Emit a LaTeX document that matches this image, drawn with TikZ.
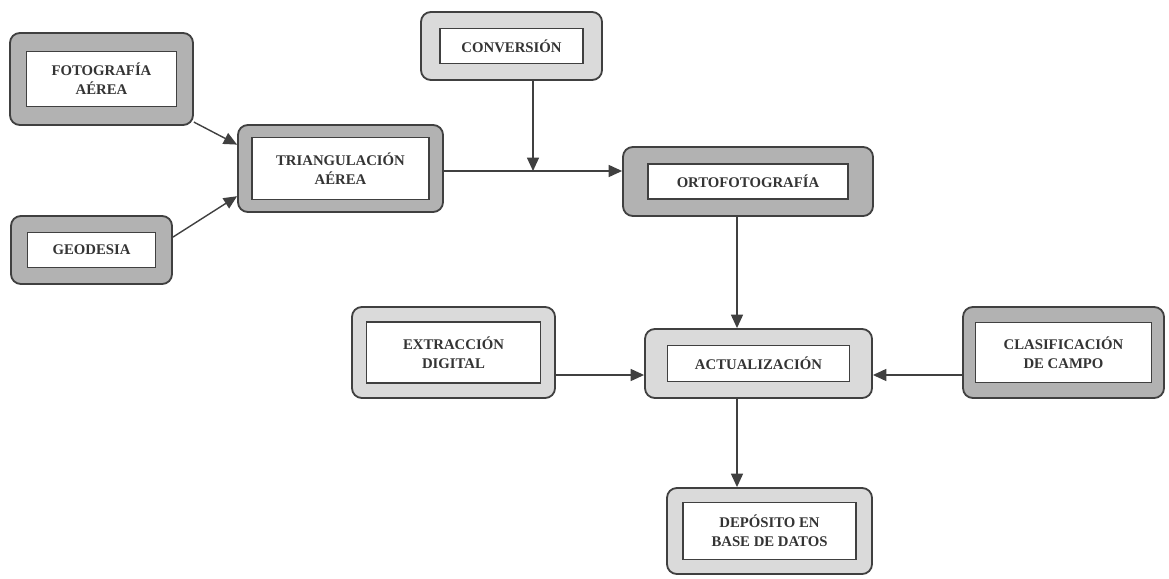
\documentclass[tikz,border=0pt]{standalone}
\usepackage{fontspec}
\setmainfont{Liberation Serif}
\usepackage{xcolor}
\usetikzlibrary{arrows.meta}
\definecolor{inkgray}{RGB}{64,64,64}
\definecolor{textgray}{RGB}{52,52,52}
\definecolor{shadedark}{RGB}{178,178,178}
\definecolor{shadelight}{RGB}{218,218,218}
\newcommand{\px}{0.025cm}

\begin{document}
\begin{tikzpicture}[x=0.025cm, y=-0.025cm,
  flow/.style={-{Triangle[length=9.5pt, width=8.5pt]}, draw=inkgray, line width=1pt},
  shell/.style={draw=inkgray, line width=1.3pt, rounded corners=7pt, inner sep=0pt},
  darkshell/.style={shell, fill=shadedark},
  lightshell/.style={shell, fill=shadelight},
  card/.style={draw=inkgray, line width=1.2pt, fill=white, align=center,
               text=textgray, font=\fontsize{10.5}{13.5}\selectfont\bfseries}]
  \useasboundingbox (0,0) rectangle (1169,578);

  % sources
  \node (foto) [darkshell, minimum width=183*\px, minimum height=92*\px] at (101.5,79) {};
  \node (fotoin) [card, minimum width=150*\px, minimum height=55*\px] at (foto) {FOTOGRAFÍA\\AÉREA};
  \node (geo) [darkshell, minimum width=161*\px, minimum height=68*\px] at (91.5,250) {};
  \node (geoin) [card, minimum width=128*\px, minimum height=35*\px] at (geo) {GEODESIA};

  \node (tri) [darkshell, minimum width=205*\px, minimum height=87*\px] at (340.5,168.5) {};
  \node (triin) [card, minimum width=177*\px, minimum height=62*\px] at (tri) {TRIANGULACIÓN\\AÉREA};
  \node (conv) [lightshell, minimum width=181*\px, minimum height=68*\px] at (511.5,46) {};
  \node (convin) [card, minimum width=143*\px, minimum height=35*\px] at (conv) {CONVERSIÓN};
  \node (orto) [darkshell, minimum width=250*\px, minimum height=69*\px] at (748,181.5) {};
  \node (ortoin) [card, minimum width=200*\px, minimum height=35*\px] at (orto) {ORTOFOTOGRAFÍA};

  % update stage
  \node (ext) [lightshell, minimum width=203*\px, minimum height=91*\px] at (453.5,352.5) {};
  \node (extin) [card, minimum width=174*\px, minimum height=61*\px] at (ext) {EXTRACCIÓN\\DIGITAL};
  \node (act) [lightshell, minimum width=227*\px, minimum height=69*\px] at (758.5,363.5) {};
  \node (actin) [card, minimum width=182*\px, minimum height=36*\px] at (act) {ACTUALIZACIÓN};
  \node (clas) [darkshell, minimum width=201*\px, minimum height=91*\px] at (1063.5,352.5) {};
  \node (clasin) [card, minimum width=176*\px, minimum height=60*\px] at (clas) {CLASIFICACIÓN\\DE CAMPO};
  \node (dep) [lightshell, minimum width=205*\px, minimum height=86*\px] at (769.5,531) {};
  \node (depin) [card, minimum width=173*\px, minimum height=57*\px] at (dep) {DEPÓSITO EN\\BASE DE DATOS};

  % connectors
  \coordinate (join) at (533,171);
  \coordinate (spine) at (737,0);
  \coordinate (feed) at (0,375);
  \draw[flow] (foto.-25) -- (tri.167);
  \draw[flow] (geo.9) -- (tri.195);
  \draw[flow] (tri.east |- join) -- (orto.west |- join);
  \draw[flow] (conv.south -| join) -- (join);
  \draw[flow] (orto.south -| spine) -- (act.north -| spine);
  \draw[flow] (ext.east |- feed) -- (act.west |- feed);
  \draw[flow] (clas.west |- feed) -- (act.east |- feed);
  \draw[flow] (act.south -| spine) -- (dep.north -| spine);
\end{tikzpicture}
\end{document}
